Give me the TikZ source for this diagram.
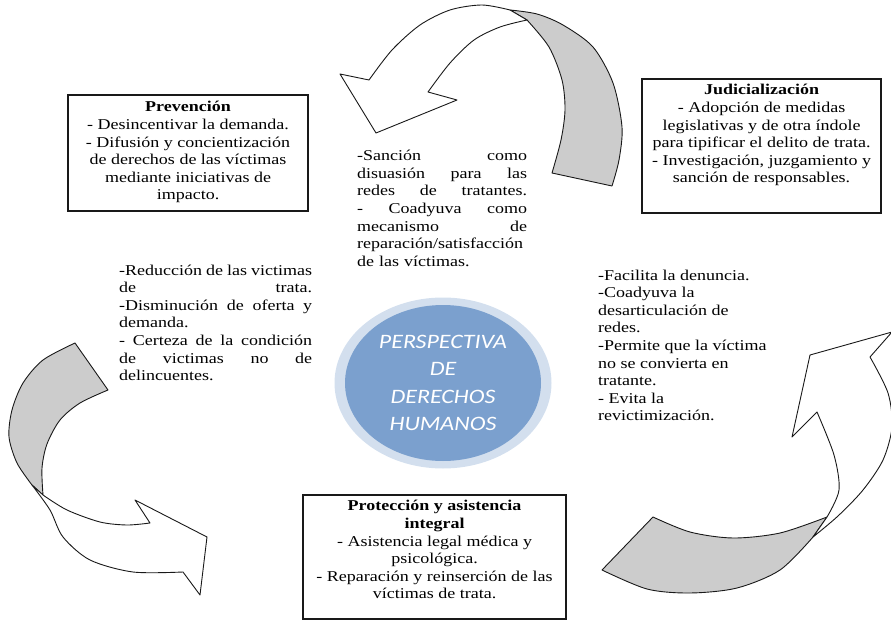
\documentclass[tikz,border=0pt]{standalone}
\usepackage{fontspec}
\setmainfont{Liberation Serif}[FakeStretch=1.2]
\newfontfamily\circfont{Carlito}[FakeStretch=1.17]
\usetikzlibrary{positioning, shapes.geometric}
\definecolor{CircBlue}{RGB}{123,160,206}
\definecolor{CircRing}{RGB}{211,223,238}
\definecolor{BackGray}{RGB}{204,204,204}

\begin{document}
\begin{tikzpicture}[x=1pt, y=-1pt,
		box/.style={draw=black!90, line width=1.3pt, inner sep=0pt},
		txt/.style={font=\fontsize{15}{17.6}\selectfont, inner sep=0pt, text=black},
		circtxt/.style={font=\circfont\itshape\fontsize{20.5}{27.5}\selectfont, text=white, align=center, inner sep=0pt},
		band/.style={draw=black!90, line width=0.9pt, line join=round, fill=white},
		back/.style={band, fill=BackGray}]
	\useasboundingbox (0,0) rectangle (891,620);

	% Flechas
	\draw[back] (510,10) -- plot[smooth] coordinates {(510,10) (537,14) (563,25) (593,47) (613,83) (622,127) (619,160) (612,186)}
		-- (552,173) -- plot[smooth] coordinates {(552,173) (561,140) (565,110) (562,80) (549,47) (527,20)} -- cycle;
	\draw[band] (510,10) -- plot[smooth] coordinates {(510,10) (482,5) (450,10) (420,25) (392,50) (369,80)}
		-- (340,74) -- (376,133) -- (457,100) -- (428,92)
		-- plot[smooth] coordinates {(428,92) (450,63) (474,40) (500,27) (527,20)} -- cycle;

	\draw[back] (75,343) -- (108,390) -- plot[smooth] coordinates {(108,390) (80,403) (60,420) (47,444) (42,468) (43,495)}
		-- (32,485) -- plot[smooth] coordinates {(32,485) (17,463) (9,437) (12,410) (23,383) (43,360) (75,343)} -- cycle;
	\draw[band] (43,495) -- plot[smooth] coordinates {(43,495) (67,510) (100,522) (127,525) (150,523)}
		-- (135,500) -- (207,537) -- (200,595) -- (183,572)
		-- plot[smooth] coordinates {(183,572) (133,572) (90,560) (63,537) (50,510) (32,485)} -- cycle;

	\draw[back] (602,570) -- (653,517) -- plot[smooth] coordinates {(653,517) (690,532) (733,538) (780,533) (827,517)}
		-- (813,537) -- plot[smooth] coordinates {(813,537) (780,570) (737,588) (690,593) (647,589) (602,570)} -- cycle;
	\draw[band] (813,537) -- plot[smooth] coordinates {(813,537) (838,516) (863,490) (883,460) (892,427) (888,393) (870,357)}
		-- (892,332) -- (810,355) -- (792,437) -- (817,412)
		-- plot[smooth] coordinates {(817,412) (834,455) (839,490) (827,517)} -- cycle;

	% Circulo central
	\node[ellipse, fill=CircRing, minimum width=217pt, minimum height=171pt, inner sep=0pt] (ring) at (443,383) {};
	\node[ellipse, fill=CircBlue, minimum width=196pt, minimum height=156pt, inner sep=0pt] (core) at (ring.center) {};
	\node[circtxt] (corelbl) at (core.center) {PERSPECTIVA\\DE\\DERECHOS\\HUMANOS};

	% Cuadros
	\node[box, minimum width=240pt, minimum height=116pt] (prev) at (188,153) {};
	\node[txt, align=center, below=7pt of prev.north] (prevtxt) {\textbf{Prevención}\\- Desincentivar la demanda.\\- Difusión y concientización\\de derechos de las víctimas\\mediante iniciativas de\\impacto.};

	\node[box, minimum width=239pt, minimum height=134pt] (judi) at (761.5,146) {};
	\node[txt, align=center, below=6pt of judi.north] (juditxt) {\textbf{Judicialización}\\- Adopción de medidas\\legislativas y de otra índole\\para tipificar el delito de trata.\\- Investigación, juzgamiento y\\sanción de responsables.};

	\node[box, minimum width=263pt, minimum height=124pt] (prot) at (434.5,557) {};
	\node[txt, align=center, below=6pt of prot.north] (prottxt) {\textbf{Protección y asistencia}\\\textbf{integral}\\- Asistencia legal médica y\\psicológica.\\- Reparación y reinserción de las\\víctimas de trata.};

	% Textos libres
	\node[txt, anchor=north west, text width=170pt, align=left] (sancion) at (357,150) {-Sanción\hfill como\\disuasión\hfill para\hfill las\\redes\hfill de\hfill tratantes.\\-\hfill Coadyuva\hfill como\\mecanismo\hfill de\\reparación/satisfacción\\de las víctimas.};

	\node[txt, anchor=north west, text width=193pt, align=left] (reduccion) at (119,264.5) {-Reducción\hfill de\hfill las\hfill victimas\\de\hfill trata.\\-Disminución\hfill de\hfill oferta\hfill y\\demanda.\\-\hfill Certeza\hfill de\hfill la\hfill condición\\de\hfill victimas\hfill no\hfill de\\delincuentes.};

	\node[txt, anchor=north west, align=left] (denuncia) at (598,269.5) {-Facilita la denuncia.\\-Coadyuva la\\desarticulación de\\redes.\\-Permite que la víctima\\no se convierta en\\tratante.\\- Evita la\\revictimización.};
\end{tikzpicture}
\end{document}
